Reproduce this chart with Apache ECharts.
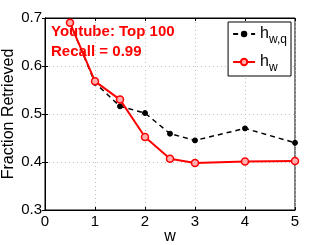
<!DOCTYPE html>
<html><head><meta charset="utf-8">
<script src="https://cdn.jsdelivr.net/npm/echarts@6/dist/echarts.min.js"></script>
<style>html,body{margin:0;padding:0;background:#fff}#c{width:325px;height:245px}</style>
</head><body><div id="c"></div>
<script>
const wValues = [0.5, 1, 1.5, 2, 2.5, 3, 4, 5];
const hwq = [0.690, 0.565, 0.516, 0.502, 0.459, 0.445, 0.470, 0.440];
const hw = [0.690, 0.568, 0.530, 0.452, 0.407, 0.398, 0.401, 0.402];
const xTicks = [0, 1, 2, 3, 4, 5];
const yTicks = [0.3, 0.4, 0.5, 0.6, 0.7];
const annot = ['Youtube: Top 100', 'Recall = 0.99'];

const font = 'Liberation Sans, Arial, sans-serif';
const chart = echarts.init(document.getElementById('c'));
const pair = (xs, ys) => xs.map((x, i) => [x, ys[i]]);
chart.setOption({
  animation: false,
  grid: {left: 45, right: 30, top: 18, bottom: 35, containLabel: false, outerBoundsMode: 'none',
    show: true, borderColor: '#000', borderWidth: 1, backgroundColor: 'transparent'},
  xAxis: [{
    type: 'value', min: 0, max: 5, interval: 1,
    name: 'w', nameLocation: 'middle', nameGap: 19, nameMoveOverlap: false,
    nameTextStyle: {fontFamily: font, fontSize: 16, color: '#000'},
    axisLine: {show: true, lineStyle: {color: '#000'}},
    axisTick: {show: true, inside: true, length: 3, lineStyle: {color: '#000'}},
    axisLabel: {fontFamily: font, fontSize: 15, color: '#000', margin: 4,
      formatter: v => xTicks.includes(v) ? String(v) : ''},
    splitLine: {show: true, lineStyle: {color: '#bbb', type: [1, 3], width: 1}}
  }, {
    type: 'value', min: 0, max: 5, interval: 1, position: 'top',
    axisLine: {show: true, lineStyle: {color: '#000'}},
    axisTick: {show: true, inside: true, length: 3, lineStyle: {color: '#000'}},
    axisLabel: {show: false}, splitLine: {show: false}
  }],
  yAxis: [{
    type: 'value', min: 0.3, max: 0.7, interval: 0.1,
    name: 'Fraction Retrieved', nameLocation: 'middle', nameGap: 28, nameRotate: 90, nameMoveOverlap: false,
    nameTextStyle: {fontFamily: font, fontSize: 16, color: '#000'},
    axisLine: {show: true, lineStyle: {color: '#000'}},
    axisTick: {show: true, inside: true, length: 3, lineStyle: {color: '#000'}},
    axisLabel: {fontFamily: font, fontSize: 15, color: '#000', margin: 3,
      formatter: v => v.toFixed(1)},
    splitLine: {show: true, lineStyle: {color: '#bbb', type: [1, 3], width: 1}}
  }, {
    type: 'value', min: 0.3, max: 0.7, interval: 0.1, position: 'right',
    axisLine: {show: true, lineStyle: {color: '#000'}},
    axisTick: {show: true, inside: true, length: 3, lineStyle: {color: '#000'}},
    axisLabel: {show: false}, splitLine: {show: false}
  }],
  legend: {
    right: 34, top: 22, orient: 'vertical', itemWidth: 22, itemHeight: 8, itemGap: 8,
    padding: [4, 4, 2, 4],
    backgroundColor: '#fff', borderColor: '#000', borderWidth: 1, borderRadius: 0,
    data: ['hwq', 'hw'],
    formatter: n => n === 'hwq' ? '{m|h}{s|w,q}' : '{m|h}{s|w}',
    textStyle: {fontFamily: font, color: '#000', rich: {
      m: {fontSize: 16, fontFamily: font, color: '#000'},
      s: {fontSize: 12, fontFamily: font, color: '#000', padding: [12, 0, 0, 0]}
    }}
  },
  series: [{
    name: 'hwq', type: 'line', data: pair(wValues, hwq),
    lineStyle: {color: '#000', width: 1.5, type: [5, 4]},
    symbol: 'circle', symbolSize: 5,
    itemStyle: {color: '#000', borderColor: '#000'}, z: 2
  }, {
    name: 'hw', type: 'line', data: pair(wValues, hw),
    lineStyle: {color: '#ff0000', width: 2},
    symbol: 'circle', symbolSize: 7,
    itemStyle: {color: '#ffb0b0', borderColor: '#ff0000', borderWidth: 1.5}, z: 3
  }],
  graphic: annot.map((t, i) => ({
    type: 'text', left: 51, top: 24 + i * 20,
    style: {text: t, fill: '#ff0000', font: 'bold 15px ' + font}
  }))
});
</script></body></html>
